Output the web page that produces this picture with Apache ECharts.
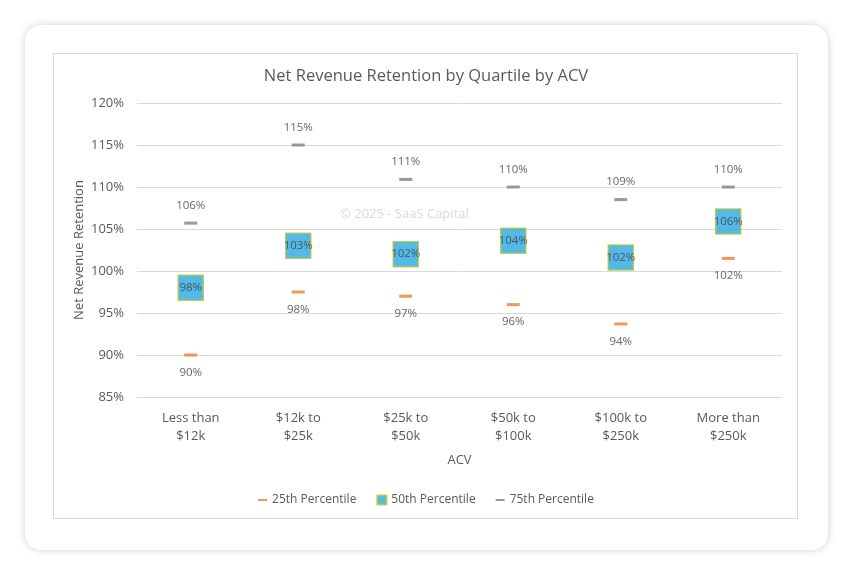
<!DOCTYPE html>
<html>
<head>
<meta charset="utf-8">
<script src="https://cdn.jsdelivr.net/npm/echarts@6/dist/echarts.min.js"></script>
<style>
    html, body { margin: 0; padding: 0; background: #ffffff; }
    #page { position: relative; width: 852px; height: 574px; overflow: hidden; }
    #card {
        position: absolute; left: 25px; top: 25px; width: 803px; height: 525px;
        background: #fff; border-radius: 16px;
        box-shadow: 0 0 8px rgba(0, 0, 0, 0.18);
    }
    #frame {
        position: absolute; left: 53px; top: 53px; width: 743px; height: 464px;
        border: 1px solid #d9d9d9; background: #fff;
    }
    #chart { position: absolute; left: 0; top: 0; width: 852px; height: 574px; }
</style>
</head>
<body>
<div id="page">
    <div id="card"></div>
    <div id="frame"></div>
    <div id="chart"></div>
</div>
<script>
// Datos del gráfico
const categories = ['Less than\n$12k', '$12k to\n$25k', '$25k to\n$50k', '$50k to\n$100k', '$100k to\n$250k', 'More than\n$250k'];
const p25 = [90.0, 97.5, 97.0, 96.0, 93.7, 101.5];
const p50 = [98.0, 103.0, 102.0, 103.6, 101.6, 105.9];
const p75 = [105.7, 115.0, 110.9, 110.0, 108.5, 110.0];
const yTicks = { min: 85, max: 120, interval: 5 };

const font = '"Open Sans", sans-serif';
const dash = 'path://M0,0M9,9M0,3.5L9,3.5L9,5.5L0,5.5Z';

var chart = echarts.init(document.getElementById('chart'), null, { renderer: 'canvas' });

function pct(p) {
    return Math.round(p.value[1]) + '%';
}

var option = {
    backgroundColor: 'transparent',
    textStyle: { fontFamily: font },
    title: {
        text: 'Net Revenue Retention by Quartile by ACV',
        left: 'center',
        top: 63,
        textStyle: { fontFamily: font, fontSize: 16.5, fontWeight: 'normal', color: '#595959' }
    },
    graphic: [{
        type: 'text',
        left: 340,
        top: 208,
        silent: true,
        style: { text: '© 2025 - SaaS Capital', fill: '#d9d9d9', font: '13px ' + font }
    }],
    legend: {
        top: 489,
        left: 'center',
        itemWidth: 9,
        itemHeight: 9,
        itemGap: 20,
        textStyle: { fontFamily: font, fontSize: 12, color: '#595959' },
        data: [
            { name: '25th Percentile', icon: dash },
            { name: '50th Percentile', icon: 'rect' },
            { name: '75th Percentile', icon: dash }
        ]
    },
    grid: { left: 137, right: 70, top: 103, bottom: 177 },
    xAxis: {
        type: 'category',
        data: categories,
        name: 'ACV',
        nameLocation: 'middle',
        nameGap: 57,
        nameMoveOverlap: false,
        nameTextStyle: { fontFamily: font, fontSize: 13, color: '#595959' },
        axisLine: { lineStyle: { color: '#d9d9d9' } },
        axisTick: { show: false },
        axisLabel: { fontFamily: font, fontSize: 13, color: '#595959', lineHeight: 18, margin: 12 }
    },
    yAxis: {
        type: 'value',
        min: yTicks.min,
        max: yTicks.max,
        interval: yTicks.interval,
        name: 'Net Revenue Retention',
        nameLocation: 'middle',
        nameGap: 51,
        nameMoveOverlap: false,
        nameTextStyle: { fontFamily: font, fontSize: 13, color: '#595959' },
        axisLine: { show: false },
        axisTick: { show: false },
        splitLine: { lineStyle: { color: '#d9d9d9' } },
        axisLabel: { fontFamily: font, fontSize: 13, color: '#595959', margin: 13, formatter: '{value}%' }
    },
    series: [
        {
            name: '25th Percentile',
            type: 'scatter',
            symbol: 'rect',
            symbolSize: [13, 3],
            itemStyle: { color: '#ed7d31' },
            label: { show: true, position: 'bottom', distance: 10, formatter: pct, fontFamily: font, fontSize: 11.5, color: '#404040' },
            data: p25.map((v, i) => [i, v]),
            z: 3
        },
        {
            name: '50th Percentile',
            type: 'scatter',
            symbol: 'rect',
            symbolSize: 25,
            itemStyle: { color: '#29a8e0', borderColor: '#a9c938', borderWidth: 1.5 },
            label: { show: true, position: 'inside', formatter: pct, fontFamily: font, fontSize: 11.5, color: '#404040' },
            data: p50.map((v, i) => [i, v]),
            z: 2
        },
        {
            name: '75th Percentile',
            type: 'scatter',
            symbol: 'rect',
            symbolSize: [13, 3],
            itemStyle: { color: '#7f7f7f' },
            label: { show: true, position: 'top', distance: 10, formatter: pct, fontFamily: font, fontSize: 11.5, color: '#404040' },
            data: p75.map((v, i) => [i, v]),
            z: 3
        }
    ]
};

chart.setOption(option);
</script>
</body>
</html>
